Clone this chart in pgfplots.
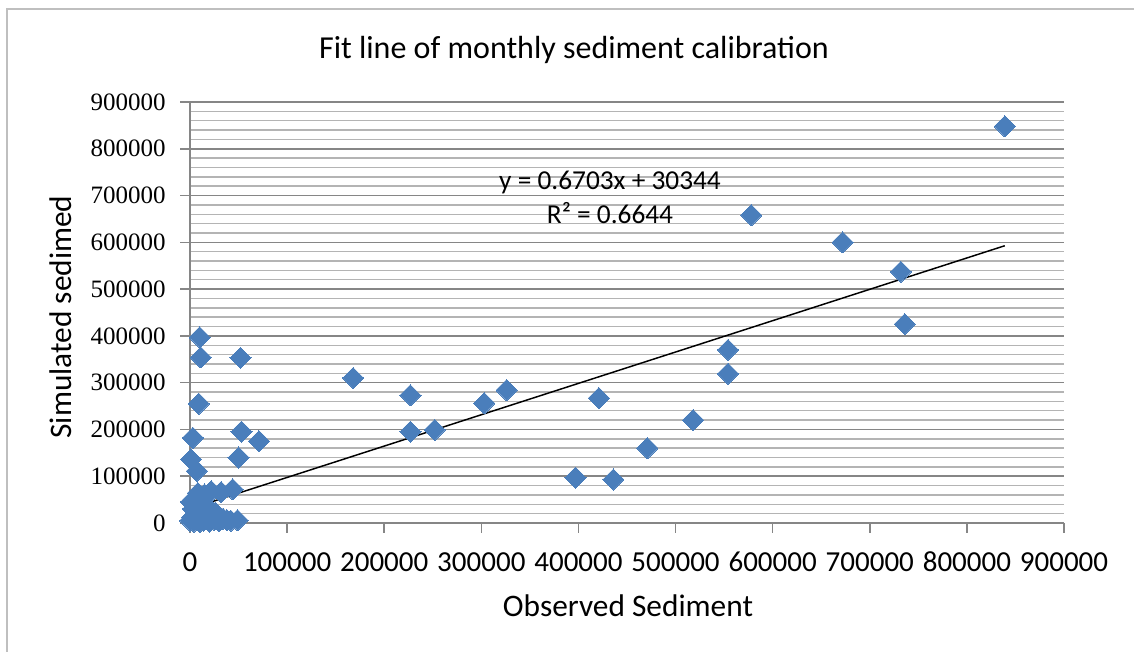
\documentclass[border=0pt]{standalone}
\usepackage{fontspec}
\setmainfont{Carlito}
\newfontfamily\serifnum{Liberation Serif}
\usepackage{pgfplots}
\pgfplotsset{compat=1.18}
\definecolor{mk}{HTML}{4A7EBB}
\definecolor{majg}{HTML}{868686}
\definecolor{ming}{HTML}{B4B4B4}
\definecolor{frame}{HTML}{BFBFBF}
\begin{document}
\begin{tikzpicture}
\useasboundingbox (0,0) rectangle (850.5pt,489pt);
\draw[frame, line width=0.9pt] (5.25pt,0pt) -- (5.25pt,482.25pt) -- (850.5pt,482.25pt);
\begin{axis}[
  at={(142.5pt,96.75pt)}, anchor=south west,
  scale only axis, width=655.5pt, height=315.75pt,
  xmin=0, xmax=900000, ymin=0, ymax=900000,
  xtick={0,100000,...,900000},
  ytick={0,100000,...,900000},
  minor y tick num=4,
  ymajorgrids, yminorgrids,
  major grid style={majg, line width=1.1pt},
  minor grid style={ming, line width=1.1pt},
  axis lines*=left,
  axis line style={draw=none},
  tick align=outside,
  major tick length=7.5pt, minor tick length=0pt,
  tick style={majg, line width=1.1pt},
  scaled ticks=false,
  /pgf/number format/.cd, fixed, precision=0, 1000 sep={}, assume math mode=true,
  /pgfplots/.cd,
  xticklabel style={font=\fontsize{21.75pt}{24pt}\selectfont, anchor=base, inner sep=0pt, yshift=-29.25pt},
  yticklabel={\serifnum\fontsize{18.75pt}{22pt}\selectfont\pgfmathprintnumber{\tick}},
  yticklabel style={anchor=east, inner sep=0pt, xshift=-10.5pt},
  clip=false,
]
\draw[majg, line width=1.1pt] (axis cs:0,900000) -- (axis cs:0,0) -- (axis cs:900000,0);
\addplot[mk, only marks, mark=square*, mark size=5.6pt, mark options={fill=mk, draw=mk, line width=0pt, rotate=45}] coordinates {
(839000,848000) (578000,658000) (672000,600000) (732000,537000) (736000,425000)
(554000,370000) (554000,319000) (518000,220000) (471000,160000) (421000,267000)
(397000,97000) (436000,93000) (326000,284000) (303000,256000) (252000,199000)
(227000,273000) (227000,195000) (168000,310000) (71000,175000) (53000,195000)
(50000,140000) (52000,353000) (10000,397000) (11000,354000) (9000,255000)
(3000,182000) (1000,136000) (7000,111000) (44000,72000) (32000,66000)
(15000,61000) (8000,64000) (3000,49000) (1000,45000) (5000,38000) (12000,45000)
(20000,30000) (26000,22000) (0,5000) (2000,12000) (4000,3000) (6000,20000)
(8000,8000) (10000,2000) (12000,15000) (14000,5000) (16000,25000) (18000,10000)
(20000,3000) (22000,18000) (25000,7000) (28000,12000) (30000,4000) (34000,9000)
(38000,6000) (42000,5000) (49000,6000) (3000,30000) (22000,68000)
};
\addplot[black, line width=1.1pt, no marks] coordinates {(1000,31014) (839000,592726)};
\end{axis}
\node[anchor=base, font=\fontsize{24pt}{28pt}\selectfont] at (430.5pt,444.75pt) {Fit line of monthly sediment calibration};
\node[anchor=base, font=\fontsize{23.5pt}{26pt}\selectfont] at (471pt,26.25pt) {Observed Sediment};
\node[rotate=90, font=\fontsize{23.5pt}{26pt}\selectfont] at (45.75pt,251.25pt) {Simulated sedimed};
\node[font=\fontsize{20.5pt}{23pt}\selectfont] at (457.5pt,352.5pt) {y = 0.6703x + 30344};
\node[font=\fontsize{20.5pt}{23pt}\selectfont] at (457.5pt,329.25pt) {R² = 0.6644};
\end{tikzpicture}
\end{document}
